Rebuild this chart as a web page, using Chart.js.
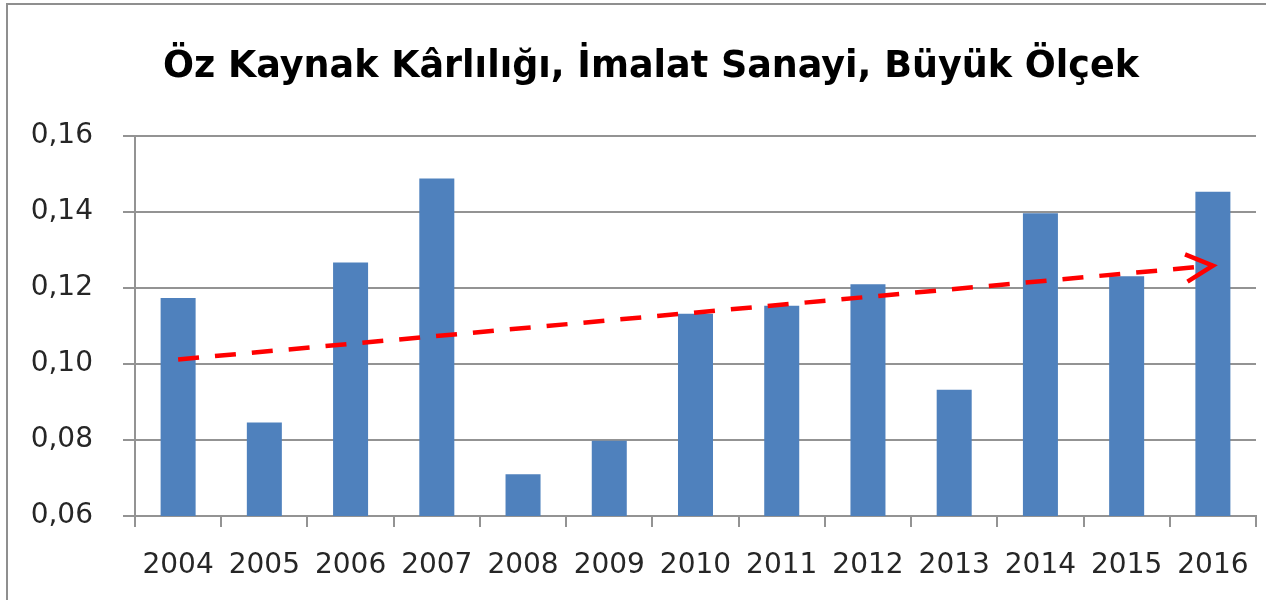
<!DOCTYPE html>
<html>
<head>
<meta charset="utf-8">
<script src="https://cdn.jsdelivr.net/npm/chart.js@4/dist/chart.umd.min.js"></script>
<style>
  html, body { margin: 0; padding: 0; background: #fff; }
  #wrap { position: relative; width: 1266px; height: 600px; overflow: hidden; }
  #frame { position: absolute; left: 6px; top: 3px; width: 1300px; height: 700px;
           border-top: 2px solid #8f8f8f; border-left: 2px solid #8f8f8f; pointer-events: none; }
  canvas { position: absolute; left: 0; top: 0; }
</style>
</head>
<body>
<div id="wrap">
  <canvas id="roe" width="1266" height="600"></canvas>
  <div id="frame"></div>
</div>
<script>
// Data
const years = ['2004','2005','2006','2007','2008','2009','2010','2011','2012','2013','2014','2015','2016']
const roe = [0.1174, 0.0846, 0.1267, 0.1488, 0.0710, 0.0798, 0.1132, 0.1153, 0.1210, 0.0932, 0.1397, 0.1231, 0.1453]
// trend arrow drawn by hand: start at 2004, end at 2016
const trend = [0.1012, null, null, null, null, null, null, null, null, null, null, null, 0.1259]
const yTicks = { min: 0.06, max: 0.16, step: 0.02 }
const titleText = 'Öz Kaynak Kârlılığı, İmalat Sanayi, Büyük Ölçek'

const gridGray = '#939393'
const textDark = '#262626'
const tickFont = { family: 'DejaVu Sans', size: 28 }

// title is drawn by hand so it can sit off-centre like the original
const chartTitle = {
  id: 'chartTitle',
  afterDraw(chart) {
    const ctx = chart.ctx
    ctx.save()
    ctx.font = 'bold 36.5px "DejaVu Sans"'
    ctx.fillStyle = '#000'
    ctx.textAlign = 'center'
    ctx.textBaseline = 'alphabetic'
    ctx.fillText(titleText, 651, 77)
    ctx.restore()
  }
}

// open arrowhead at the end of the trend line
const arrowHead = {
  id: 'arrowHead',
  afterDatasetsDraw(chart) {
    const pts = chart.getDatasetMeta(1).data
    const a = pts[0], b = pts[pts.length - 1]
    if (!a || !b) return
    const ang = Math.atan2(b.y - a.y, b.x - a.x)
    const len = 30, spread = 27 * Math.PI / 180
    const ctx = chart.ctx
    ctx.save()
    ctx.strokeStyle = '#ff0000'
    ctx.lineWidth = 4.5
    ctx.lineJoin = 'miter'
    ctx.beginPath()
    ctx.moveTo(b.x - len * Math.cos(ang - spread), b.y - len * Math.sin(ang - spread))
    ctx.lineTo(b.x, b.y)
    ctx.lineTo(b.x - len * Math.cos(ang + spread), b.y - len * Math.sin(ang + spread))
    ctx.stroke()
    ctx.restore()
  }
}

function initChart() {
  const ctx = document.getElementById('roe')
  new Chart(ctx, {
    type: 'bar',
    data: {
      labels: years,
      datasets: [
        { type: 'bar', data: roe, backgroundColor: '#4f81bd', barPercentage: 0.406, categoryPercentage: 1, order: 2 },
        { type: 'line', data: trend, spanGaps: true, borderColor: '#ff0000', borderWidth: 4.5,
          borderDash: [21, 16], pointRadius: 0, fill: false, tension: 0, order: 1 }
      ]
    },
    options: {
      responsive: false,
      animation: false,
      devicePixelRatio: 1,
      layout: { padding: { left: 0, right: 10, top: 136, bottom: 0 } },
      plugins: {
        legend: { display: false },
        tooltip: { enabled: false },
        title: { display: false }
      },
      scales: {
        x: {
          offset: true,
          grid: { display: true, drawOnChartArea: false, drawTicks: true, tickLength: 11, color: gridGray, lineWidth: 2, offset: true },
          border: { display: true, color: gridGray, width: 2 },
          ticks: { color: textDark, font: tickFont, padding: 22, maxRotation: 0, autoSkip: false },
          afterFit(scale) { scale.height = 84; scale.paddingLeft = 0; scale.paddingRight = 0 }
        },
        y: {
          min: yTicks.min,
          max: yTicks.max,
          grid: { color: gridGray, lineWidth: 2, drawTicks: true, tickLength: 12 },
          border: { display: true, color: gridGray, width: 2 },
          ticks: {
            stepSize: yTicks.step,
            color: textDark,
            font: tickFont,
            padding: 30,
            callback: v => v.toFixed(2).replace('.', ',')
          },
          afterFit(scale) { scale.width = 135 }
        }
      }
    },
    plugins: [arrowHead, chartTitle]
  })
}

document.addEventListener('DOMContentLoaded', initChart)
</script>
</body>
</html>
